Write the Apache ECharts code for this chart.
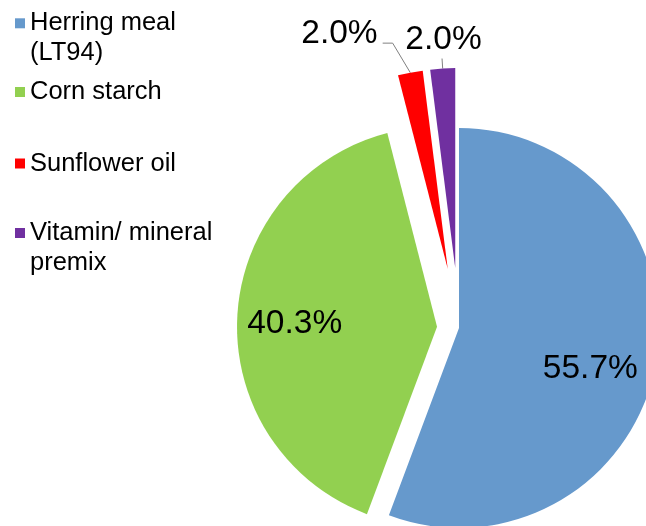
<!DOCTYPE html>
<html>
<head>
<meta charset="utf-8">
<script src="https://cdn.jsdelivr.net/npm/echarts@6/dist/echarts.min.js"></script>
<style>
  html, body { margin: 0; padding: 0; background: #ffffff; }
  #chart { width: 646px; height: 526px; }
</style>
</head>
<body>
<div id="chart"></div>
<script>
// Diet composition (% of formulation)
const categories = ['Herring meal\n(LT94)', 'Corn starch', 'Sunflower oil', 'Vitamin/ mineral\npremix'];
const shares = [55.7, 40.3, 2.0, 2.0];

// Styling
const colors = ['#6699CC', '#92D050', '#FF0000', '#7030A0'];
const FONT = '"Liberation Sans", Arial, sans-serif';
const CX = 459, CY = 328, R = 200;          // pie centre and radius
const explode = [0, 22, 60, 60];            // how far each slice is pulled out
const legendIconY = [23.3, 92, 163.5, 233]; // swatch centres
const LEGEND_LH = 30;

// Slice label placement
const labelPos = ['inside', 'inside', 'outside', 'outside'];
const lineCfg = [null, null, { length: 30, length2: 22 }, { length: 10, length2: 0 }];
const labelAdjust = [
  { dx: 30, dy: 22 },
  { dx: -39.5, dy: 2 },
  { dy: -9.5, bend: 10 },
  { dx: 6.5, dy: -1.5, align: 'center', verticalAlign: 'bottom' }
];

const total = shares.reduce((a, b) => a + b, 0);
let cum = 0;

// One pie series per slice so each slice can be pulled out by its own distance
const series = categories.map((name, i) => {
  const a0 = 90 - 360 * cum / total;
  cum += shares[i];
  const a1 = 90 - 360 * cum / total;
  const mid = (a0 + a1) / 2 * Math.PI / 180;
  const adj = labelAdjust[i];
  return {
    type: 'pie',
    name: name,
    center: [CX + explode[i] * Math.cos(mid), CY - explode[i] * Math.sin(mid)],
    radius: [0, R],
    startAngle: a0,
    endAngle: a1,
    clockwise: true,
    avoidLabelOverlap: false,
    silent: true,
    animation: false,
    emphasis: { disabled: true },
    itemStyle: { color: colors[i], borderWidth: 0 },
    label: {
      show: true,
      position: labelPos[i],
      formatter: p => p.value.toFixed(1) + '%',
      fontFamily: FONT,
      fontSize: 33.5,
      color: '#000000'
    },
    labelLine: lineCfg[i]
      ? Object.assign({ show: true, smooth: false, lineStyle: { color: '#808080', width: 1 } }, lineCfg[i])
      : { show: false },
    labelLayout: params => {
      const out = { dx: adj.dx || 0, dy: adj.dy || 0 };
      if (adj.align) out.align = adj.align;
      if (adj.verticalAlign) out.verticalAlign = adj.verticalAlign;
      const pts = params.labelLinePoints;
      if (adj.bend && pts && pts.length === 3) {
        // elbow sits just beside the text instead of straight out from the slice
        out.labelLinePoints = [pts[0], [pts[2][0] + adj.bend, pts[2][1]], pts[2]];
      }
      return out;
    },
    data: [{ name: name, value: shares[i] }]
  };
});

// One legend block per entry; two-line names get a blank leading line so the
// swatch lines up with the first line of text
const legend = categories.map((name, i) => {
  const lines = name.split('\n').length;
  const blockLines = lines > 1 ? lines + 1 : 1;
  return {
    orient: 'vertical',
    left: 15,
    top: legendIconY[i] - blockLines * LEGEND_LH / 2,
    padding: 0,
    icon: 'rect',
    itemWidth: 10,
    itemHeight: 10,
    selectedMode: false,
    formatter: n => (lines > 1 ? '\n' : '') + n,
    textStyle: { fontFamily: FONT, fontSize: 25.5, color: '#000000', lineHeight: LEGEND_LH },
    data: [name]
  };
});

const chart = echarts.init(document.getElementById('chart'), null, { renderer: 'canvas' });
chart.setOption({
  backgroundColor: '#ffffff',
  animation: false,
  color: colors,
  legend: legend,
  series: series
});
</script>
</body>
</html>
